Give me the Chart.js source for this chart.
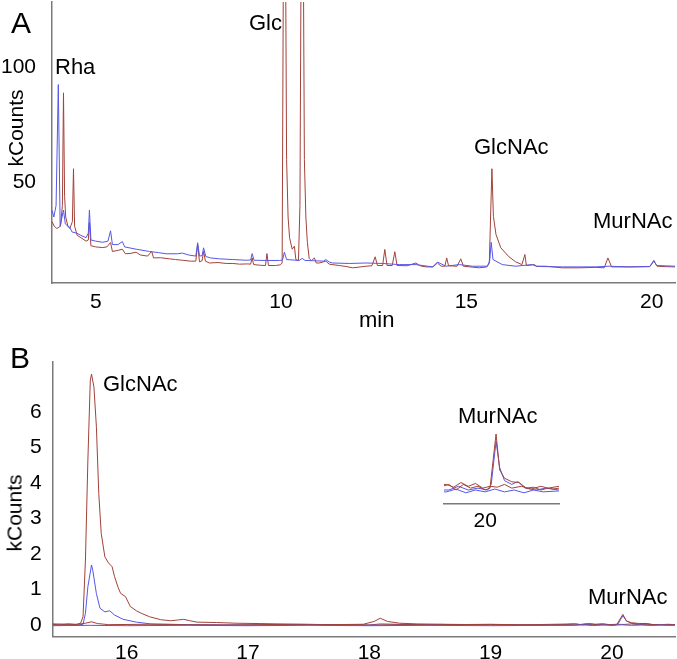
<!DOCTYPE html>
<html>
<head>
<meta charset="utf-8">
<script src="https://cdn.jsdelivr.net/npm/chart.js@4"></script>
<style>
  html,body{margin:0;padding:0;background:#fff;}
  body{width:677px;height:659px;position:relative;overflow:hidden;font-family:"Liberation Sans",Arial,sans-serif;color:#000;}
  .box{position:absolute;}
  .lbl{position:absolute;font-size:22px;line-height:22px;white-space:nowrap;}
  .big{position:absolute;font-size:30px;line-height:30px;}
  .rot{position:absolute;font-size:21px;line-height:21px;width:120px;text-align:center;transform:translate(-50%,-50%) rotate(-90deg);}
</style>
</head>
<body>
<div class="box" id="wa" style="left:0;top:0;width:677px;height:340px;"><canvas id="ca"></canvas></div>
<div class="box" id="wb" style="left:0;top:340px;width:677px;height:319px;"><canvas id="cb"></canvas></div>
<div class="box" id="wi" style="left:440px;top:410px;width:125px;height:120px;"><canvas id="ci"></canvas></div>

<div class="big" style="left:11px;top:8px;">A</div>
<div class="lbl" style="left:55px;top:56px;">Rha</div>
<div class="lbl" style="left:249px;top:12px;">Glc</div>
<div class="lbl" style="left:474px;top:136px;">GlcNAc</div>
<div class="lbl" style="left:593px;top:210px;">MurNAc</div>
<div class="lbl" style="left:359px;top:309px;">min</div>
<div class="rot" style="left:15px;top:128px;">kCounts</div>

<div class="big" style="left:10px;top:343px;">B</div>
<div class="lbl" style="left:103px;top:373px;">GlcNAc</div>
<div class="lbl" style="left:588px;top:586px;">MurNAc</div>
<div class="lbl" style="left:458px;top:405px;">MurNAc</div>
<div class="rot" style="left:14px;top:513px;">kCounts</div>

<script>
// ---------- DATA (time in min, signal in kCounts) ----------
const ticksA_x = [5, 10, 15, 20];
const ticksA_y = [50, 100];
const ticksB_x = [16, 17, 18, 19, 20];
const ticksB_y = [0, 1, 2, 3, 4, 5, 6];
const ticksInset_x = [20];

// Panel A, red trace
const traceA_red = [
 [3.82,33],[3.88,31],[3.95,30],[4.05,31],[4.10,40],[4.13,89],[4.16,44],[4.19,35],[4.25,31],[4.30,30],
 [4.37,33],[4.40,56],[4.43,31],[4.50,27],[4.60,26],[4.74,24.5],[4.80,25],[4.83,32.6],[4.87,22.5],[5.00,22],
 [5.19,21.7],[5.30,22],[5.40,23.9],[5.45,20],[5.60,20.5],[5.72,21],[5.80,19],[5.95,19.2],[6.09,19.7],[6.20,18.5],
 [6.40,18],[6.51,20.1],[6.56,17.2],[6.75,17.3],[6.99,16.8],[7.15,16.5],[7.34,16.2],[7.55,15.8],[7.70,15.8],[7.75,23],
 [7.80,15.5],[7.87,16],[7.91,20],[7.96,15.8],[8.07,15],[8.30,15.2],[8.52,14.8],[8.70,14.8],[8.88,14.5],[9.10,14.6],
 [9.18,14.5],[9.22,17.2],[9.26,14.3],[9.45,14],[9.58,13.9],[9.62,19.1],[9.66,13.9],[9.85,13.9],[9.98,14.2],[10.03,15],
 [10.09,250],[10.15,60],[10.19,35],[10.23,26],[10.30,21],[10.36,22.3],[10.40,16.5],[10.47,16],[10.51,40],[10.57,250],
 [10.63,60],[10.67,35],[10.71,24],[10.76,17],[10.82,16],[10.90,17.2],[10.95,15],[11.03,15],[11.21,15.8],[11.30,14.5],
 [11.57,13.9],[11.75,13.5],[11.93,12.9],[12.10,13.2],[12.29,13.6],[12.45,13.8],[12.54,17.7],[12.60,13.9],[12.74,13.9],[12.80,20.9],
 [12.86,13.9],[13.00,13.9],[13.07,19.9],[13.13,13.9],[13.40,13.8],[13.64,15],[13.75,13.8],[13.91,13.3],[14.10,13.3],[14.22,15],
 [14.32,13.6],[14.42,13.6],[14.47,17.2],[14.52,13.8],[14.75,13.6],[14.85,16.8],[14.92,13.6],[15.10,13.3],[15.35,12.9],[15.55,13.3],
 [15.62,15],[15.69,56],[15.73,35.3],[15.80,27.4],[15.93,21.6],[16.15,17.7],[16.33,15.5],[16.50,14.3],[16.58,18.7],[16.62,13.9],
 [16.83,14.3],[16.90,13.6],[17.14,13.6],[17.59,12.9],[18.04,12.9],[18.50,13.1],[18.72,12.9],[18.82,17.2],[18.92,13.3],[19.40,13.3],
 [19.95,13.4],[20.06,15.8],[20.15,13.6],[20.40,13.4],[20.63,13.3]
];

// Panel A, blue trace
const traceA_blue = [
 [3.82,38],[3.87,35],[3.93,40],[3.99,92.6],[4.04,31],[4.09,35],[4.13,38],[4.18,32],[4.25,31],[4.30,30.5],
 [4.36,28.5],[4.48,28],[4.60,27],[4.74,26],[4.80,28],[4.83,38],[4.87,25],[5.00,24.5],[5.19,24],[5.33,24.5],
 [5.40,29],[5.45,23],[5.60,23],[5.72,24.3],[5.78,22],[6.09,21],[6.45,20],[6.70,19.5],[6.90,19],[7.20,19],
 [7.34,19.3],[7.50,18.5],[7.70,18],[7.75,23.8],[7.80,18],[7.87,18.2],[7.91,21.6],[7.97,17.8],[8.10,17.2],[8.34,16.8],
 [8.70,16.5],[9.06,16.2],[9.18,16.3],[9.22,19.1],[9.27,16.2],[9.60,16.1],[9.96,16.1],[10.04,16.3],[10.09,19.7],[10.15,16.5],
 [10.49,16.1],[10.57,17],[10.65,16.1],[10.85,16],[11.15,15.8],[11.21,16.5],[11.30,15.4],[11.39,15],[11.84,14.8],[12.29,15],
 [12.74,14.8],[13.19,14.3],[13.64,14.3],[14.09,13.3],[14.22,15.4],[14.45,13.6],[14.81,14.3],[15.17,13.6],[15.57,13.6],[15.63,16],
 [15.67,24],[15.72,16.5],[15.97,14.3],[16.33,13.6],[16.78,14.3],[16.90,13.5],[17.59,13.3],[18.49,13.3],[18.85,13.6],[19.39,13.3],
 [19.95,13.5],[20.06,16.2],[20.13,13.9],[20.63,13.6]
];

// Panel B (and inset), red sample trace
const traceB_red1 = [
 [15.39,0.02],[15.45,0.00],[15.52,0.03],[15.58,0.01],[15.62,0.05],[15.64,0.23],[15.66,1.83],[15.68,4.65],[15.70,6.9],[15.71,7.07],
 [15.73,6.7],[15.75,5.6],[15.77,3.7],[15.79,2.58],[15.82,1.92],[15.85,1.75],[15.88,1.64],[15.90,1.36],[15.93,1.05],[15.95,0.89],
 [15.99,0.8],[16.03,0.52],[16.08,0.4],[16.12,0.33],[16.19,0.23],[16.28,0.15],[16.36,0.12],[16.42,0.14],[16.47,0.16],[16.52,0.12],
 [16.58,0.08],[16.74,0.07],[16.90,0.05],[17.10,0.04],[17.40,0.02],[17.70,0.01],[17.95,0.02],[18.04,0.1],[18.09,0.19],[18.15,0.1],
 [18.25,0.05],[18.40,0.03],[18.70,0.01],[19.00,0.02],[19.30,0.0],[19.60,0.01],[19.70,0.03],[19.76,0.0],[19.82,0.03],[19.88,0.01],
 [19.94,0.02],[20.00,0.0],[20.04,0.01],[20.09,0.30],[20.12,0.107],[20.16,0.063],[20.22,0.044],[20.28,0.04],[20.34,0.01],[20.40,0.015],
 [20.46,0.0],[20.52,0.01],[20.56,0.005],[20.61,0.01]
];
// Panel B, blue sample trace
const traceB_blue1 = [
 [15.39,0.0],[15.50,0.01],[15.60,0.0],[15.64,0.02],[15.66,0.33],[15.68,1.08],[15.71,1.69],[15.72,1.55],[15.75,0.89],[15.78,0.47],
 [15.82,0.37],[15.86,0.4],[15.90,0.28],[15.97,0.16],[16.08,0.08],[16.20,0.03],[16.50,0.01],[17.00,0.0],[17.50,0.01],[18.00,0.0],
 [18.09,0.03],[18.50,0.0],[19.00,0.01],[19.50,0.0],[19.70,0.0],[19.78,0.02],[19.86,0.0],[19.94,0.01],[20.02,0.0],[20.05,0.03],
 [20.09,0.26],[20.12,0.12],[20.16,0.05],[20.22,0.03],[20.27,0.045],[20.33,0.01],[20.42,0.0],[20.50,0.01],[20.61,0.0]
];
// Panel B, red control trace
const traceB_red2 = [
 [15.39,0.03],[15.60,0.02],[15.66,0.05],[15.71,0.09],[15.76,0.04],[15.85,0.01],[16.20,0.02],[16.80,0.0],[17.40,0.02],[18.00,0.0],
 [18.60,0.02],[19.20,0.0],[19.68,0.03],[19.74,0.015],[19.80,0.04],[19.86,0.02],[19.92,0.035],[19.98,0.01],[20.04,0.02],[20.10,0.015],
 [20.16,0.03],[20.22,0.01],[20.30,0.02],[20.38,0.005],[20.46,0.02],[20.52,0.01],[20.61,0.02]
];
// Panel B, blue control trace
const traceB_blue2 = [
 [15.39,-0.02],[15.70,-0.01],[16.00,-0.02],[16.50,-0.01],[17.00,-0.02],[17.50,-0.01],[18.00,-0.02],[18.50,-0.01],[19.00,-0.02],[19.50,-0.01],
 [19.68,-0.01],[19.76,0.005],[19.84,-0.015],[19.92,0.0],[20.00,-0.01],[20.08,0.005],[20.16,-0.01],[20.24,0.0],[20.32,-0.015],[20.40,0.0],
 [20.48,-0.01],[20.61,-0.005]
];

// ---------- STYLE ----------
const RED = 'rgb(162,66,58)';
const BLUE = 'rgb(86,86,232)';
const AXIS = '#7a7a7a';
const FONT = {family: '"Liberation Sans", Arial, sans-serif', size: 21};

const toXY = arr => arr.map(p => ({x: p[0], y: p[1]}));
const ds = (arr, color, w) => ({data: toXY(arr), borderColor: color, borderWidth: w, pointRadius: 0, tension: 0, fill: false});
const fixTicks = vals => (scale => { scale.ticks = vals.map(v => ({value: v})); });

function makeChart(id, datasets, o) {
  return new Chart(document.getElementById(id), {
    type: 'line',
    data: {datasets},
    options: {
      responsive: true, maintainAspectRatio: false, animation: false,
      events: [],
      layout: {padding: o.pad},
      plugins: {legend: {display: false}, tooltip: {enabled: false}, title: {display: false}},
      scales: {
        x: {
          type: 'linear', min: o.xmin, max: o.xmax,
          grid: {display: false, drawTicks: false},
          border: {display: true, color: AXIS, width: 1.5},
          ticks: {font: FONT, color: '#000', padding: o.xpad, maxRotation: 0, autoSkip: false},
          afterBuildTicks: fixTicks(o.xticks),
          afterFit: s => { s.height = o.xh; s.paddingLeft = 0; s.paddingRight = 0; }
        },
        y: {
          type: 'linear', min: o.ymin, max: o.ymax, display: o.ydisp,
          grid: {display: false, drawTicks: false},
          border: {display: true, color: AXIS, width: 1.5},
          ticks: {font: FONT, color: '#000', padding: o.ypad, autoSkip: false},
          afterBuildTicks: fixTicks(o.yticks),
          afterFit: s => { s.width = o.yw; s.paddingTop = 0; s.paddingBottom = 0; }
        }
      }
    }
  });
}

makeChart('ca', [ds(traceA_blue, BLUE, 1), ds(traceA_red, RED, 1)], {
  pad: {left: 0, top: 2, right: 2, bottom: 0},
  xmin: 3.82, xmax: 20.63, xticks: ticksA_x, xh: 57, xpad: 7,
  ymin: 6.3, ymax: 128.5, yticks: ticksA_y, yw: 52, ypad: 16, ydisp: true
});

makeChart('cb', [ds(traceB_blue2, BLUE, 1), ds(traceB_red2, RED, 1), ds(traceB_red1, RED, 1), ds(traceB_blue1, BLUE, 1)], {
  pad: {left: 0, top: 22, right: 2, bottom: 0},
  xmin: 15.39, xmax: 20.52, xticks: ticksB_x, xh: 22.3, xpad: 4,
  ymin: -0.33, ymax: 7.41, yticks: ticksB_y, yw: 52.7, ypad: 11, ydisp: true
});

makeChart('ci', [ds(traceB_blue2, BLUE, 1), ds(traceB_red2, RED, 1), ds(traceB_red1, RED, 1), ds(traceB_blue1, BLUE, 1)], {
  pad: {left: 4, top: 10, right: 6, bottom: 0},
  xmin: 19.66, xmax: 20.61, xticks: ticksInset_x, xh: 26, xpad: 5,
  ymin: -0.075, ymax: 0.375, yticks: [], yw: 0, ypad: 0, ydisp: false
});
</script>
</body>
</html>
